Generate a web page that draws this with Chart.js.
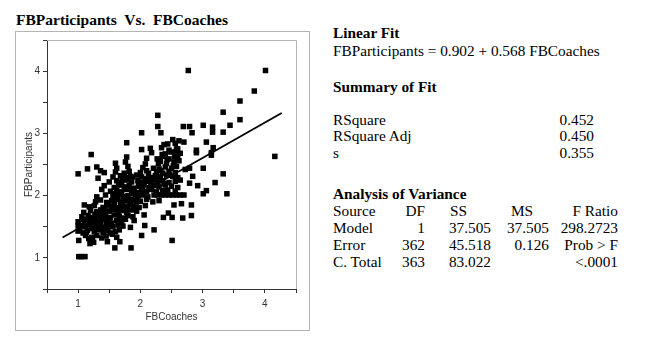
<!DOCTYPE html>
<html>
<head>
<meta charset="utf-8">
<script src="https://cdn.jsdelivr.net/npm/chart.js@4/dist/chart.umd.min.js"></script>
<style>
  html, body { margin: 0; padding: 0; background: #fff; width: 653px; height: 337px; overflow: hidden; position: relative; }
  .t { position: absolute; font-family: "Liberation Serif", "Times New Roman", serif; font-size: 15.3px; line-height: 1; white-space: pre; color: #000; }
  .b { font-weight: bold; }
  .r { text-align: right; }
  #frame { position: absolute; left: 15px; top: 31px; width: 295px; height: 300px; border: 1px solid #b4b4b4; box-sizing: border-box; }
  #plot { position: absolute; left: 16px; top: 31px; }
</style>
</head>
<body>
<div class="t b" style="left:16px;top:12px;font-size:15.5px">FBParticipants  Vs.  FBCoaches</div>
<div id="frame"></div>
<canvas id="plot" width="293" height="300"></canvas>

<div class="t b" style="left:333px;top:25px">Linear Fit</div>
<div class="t" style="left:333px;top:43px">FBParticipants = 0.902 + 0.568 FBCoaches</div>

<div class="t b" style="left:333px;top:79px">Summary of Fit</div>
<div class="t" style="left:333px;top:111.5px">RSquare</div>
<div class="t r" style="left:534px;width:60px;top:111.5px">0.452</div>
<div class="t" style="left:333px;top:128px">RSquare Adj</div>
<div class="t r" style="left:534px;width:60px;top:128px">0.450</div>
<div class="t" style="left:333px;top:144.5px">s</div>
<div class="t r" style="left:534px;width:60px;top:144.5px">0.355</div>

<div class="t b" style="left:333px;top:186px">Analysis of Variance</div>
<div class="t" style="left:333px;top:203px">Source</div>
<div class="t r" style="left:385px;width:40px;top:203px">DF</div>
<div class="t" style="left:450px;top:203px">SS</div>
<div class="t" style="left:511px;top:203px">MS</div>
<div class="t r" style="left:540px;width:78px;top:203px">F Ratio</div>

<div class="t" style="left:333px;top:220px">Model</div>
<div class="t r" style="left:385px;width:40px;top:220px">1</div>
<div class="t r" style="left:431px;width:60px;top:220px">37.505</div>
<div class="t r" style="left:489px;width:60px;top:220px">37.505</div>
<div class="t r" style="left:540px;width:78px;top:220px">298.2723</div>

<div class="t" style="left:333px;top:237px">Error</div>
<div class="t r" style="left:385px;width:40px;top:237px">362</div>
<div class="t r" style="left:431px;width:60px;top:237px">45.518</div>
<div class="t r" style="left:489px;width:60px;top:237px">0.126</div>
<div class="t r" style="left:540px;width:78px;top:237px">Prob &gt; F</div>

<div class="t" style="left:333px;top:254px">C. Total</div>
<div class="t r" style="left:385px;width:40px;top:254px">363</div>
<div class="t r" style="left:431px;width:60px;top:254px">83.022</div>
<div class="t r" style="left:540px;width:78px;top:254px">&lt;.0001</div>

<script>
// scatter values, one band of FBParticipants per line
const fbCoaches = [
  1.01, 1.05, 1.11,
  1.59, 1.85,
  1.01, 1.19, 1.25, 1.47, 1.67, 2.51,
  1.12, 1.22, 1.30, 1.38, 1.45, 1.55, 1.62, 2.02,
  1.00, 1.08, 1.15, 1.26, 1.33, 1.40, 1.48, 1.52, 1.60, 1.66, 2.22,
  1.00, 1.12, 1.18, 1.24, 1.30, 1.36, 1.42, 1.50, 1.56, 1.64, 1.72, 1.84, 2.07,
  1.00, 1.10, 1.20, 1.28, 1.34, 1.40, 1.46, 1.54, 1.62, 1.70, 1.76, 1.90,
  1.06, 1.16, 1.24, 1.32, 1.38, 1.44, 1.52, 1.58, 1.66, 1.74, 1.80, 1.88, 2.06, 2.37, 2.51, 2.68, 2.82,
  1.09, 1.20, 1.30, 1.36, 1.42, 1.50, 1.58, 1.64, 1.70, 1.78, 1.86, 1.94, 2.45,
  1.10, 1.18, 1.26, 1.40, 1.48, 1.55, 1.62, 1.68, 1.74, 1.82, 1.90, 1.98, 2.08, 2.54, 2.66, 2.82,
  1.28, 1.36, 1.46, 1.54, 1.60, 1.68, 1.76, 1.84, 1.92, 2.00, 2.10, 2.20, 2.30,
  1.30, 1.44, 1.56, 1.64, 1.72, 1.80, 1.88, 1.96, 2.04, 2.12, 2.22, 2.28, 2.34, 2.40, 2.46, 2.52, 2.58, 2.64, 2.70, 3.01, 3.39,
  1.38, 1.52, 1.62, 1.70, 1.78, 1.86, 1.94, 2.02, 2.10, 2.18, 2.26, 2.36, 2.44, 2.56, 3.06,
  1.42, 1.58, 1.66, 1.74, 1.82, 1.90, 1.98, 2.06, 2.14, 2.22, 2.30, 2.40, 2.50, 2.60, 2.92,
  1.50, 1.62, 1.70, 1.78, 1.86, 1.96, 2.04, 2.12, 2.20, 2.28, 2.36, 2.46, 2.56, 2.64, 2.79, 3.20,
  1.32, 1.56, 1.68, 1.76, 1.84, 1.94, 2.02, 2.16, 2.24, 2.32, 2.42, 2.52, 2.60, 2.84,
  1.00, 1.36, 1.42, 1.60, 1.74, 1.82, 2.00, 2.10, 2.26, 2.36, 2.46, 2.56, 3.33,
  1.15, 1.30, 1.62, 1.80, 2.04, 2.30, 2.40, 2.50, 2.58, 2.72, 2.79, 3.01,
  1.60, 1.76, 2.08, 2.32, 2.42, 2.54, 2.62,
  1.78, 2.10, 2.36, 2.46, 2.60, 3.14, 4.16,
  1.21, 2.18, 2.40, 2.56, 2.64, 2.90, 3.14,
  2.02, 2.16, 2.34, 2.46, 2.60, 2.90, 3.17,
  1.78, 2.38, 2.44, 2.56, 2.70, 3.06, 2.52, 2.62,
  2.02, 2.33, 2.83, 3.33, 3.16,
  2.28, 2.69, 2.79, 3.01, 3.16, 3.44,
  3.60, 2.28, 3.33, 3.60, 3.83, 2.77, 4.01,
  // dense core, lower left
  1.22, 1.28, 1.33, 1.39, 1.45, 1.49, 1.27, 1.35, 1.43, 1.53, 1.18, 1.14,
  1.05, 1.08, 1.03, 1.13, 1.17, 1.23,
  // dense core, middle
  1.58, 1.63, 1.67, 1.72, 1.77, 1.81, 1.85, 1.89, 1.93, 1.97, 1.65, 1.71, 1.79, 1.87, 1.58,
  // dense core, upper right
  2.03, 2.08, 2.13, 2.17, 2.21, 2.25, 2.29, 2.33, 2.38, 2.43, 2.47, 2.53, 2.35, 2.27, 2.49, 2.58, 2.55
]
const fbParticipants = [
  1.02, 1.02, 1.02,
  1.16, 1.16,
  1.28, 1.23, 1.25, 1.26, 1.26, 1.28,
  1.36, 1.33, 1.36, 1.32, 1.35, 1.38, 1.33, 1.36,
  1.43, 1.40, 1.44, 1.42, 1.45, 1.41, 1.44, 1.40, 1.42, 1.45, 1.45,
  1.52, 1.50, 1.53, 1.48, 1.51, 1.54, 1.49, 1.52, 1.50, 1.53, 1.51, 1.49, 1.52,
  1.58, 1.60, 1.57, 1.61, 1.58, 1.62, 1.59, 1.56, 1.60, 1.58, 1.62, 1.60,
  1.66, 1.68, 1.65, 1.69, 1.66, 1.68, 1.65, 1.69, 1.67, 1.64, 1.68, 1.66, 1.69, 1.65, 1.65, 1.64, 1.68,
  1.73, 1.76, 1.74, 1.77, 1.73, 1.75, 1.78, 1.74, 1.76, 1.73, 1.77, 1.75, 1.72,
  1.85, 1.82, 1.84, 1.81, 1.85, 1.83, 1.80, 1.84, 1.82, 1.86, 1.83, 1.81, 1.84, 1.85, 1.87, 1.85,
  1.90, 1.93, 1.89, 1.92, 1.94, 1.90, 1.92, 1.89, 1.93, 1.91, 1.94, 1.90, 1.92,
  1.98, 2.01, 1.99, 2.02, 1.98, 2.00, 2.03, 1.99, 2.01, 1.98, 2.01, 2.01, 2.01, 2.01, 2.01, 2.01, 2.01, 2.01, 2.01, 2.03, 2.03,
  2.10, 2.07, 2.09, 2.06, 2.10, 2.08, 2.05, 2.09, 2.07, 2.10, 2.06, 2.08, 2.09, 2.07, 2.08,
  2.16, 2.13, 2.17, 2.14, 2.16, 2.12, 2.15, 2.17, 2.13, 2.16, 2.14, 2.17, 2.15, 2.13, 2.16,
  2.22, 2.24, 2.21, 2.25, 2.22, 2.24, 2.21, 2.23, 2.25, 2.22, 2.24, 2.21, 2.23, 2.25, 2.20, 2.21,
  2.28, 2.30, 2.32, 2.29, 2.31, 2.33, 2.30, 2.29, 2.32, 2.30, 2.33, 2.31, 2.29, 2.31,
  2.35, 2.40, 2.37, 2.38, 2.36, 2.39, 2.37, 2.40, 2.38, 2.36, 2.39, 2.37, 2.35,
  2.43, 2.46, 2.44, 2.47, 2.45, 2.43, 2.46, 2.44, 2.47, 2.42, 2.44, 2.44,
  2.52, 2.54, 2.51, 2.55, 2.52, 2.54, 2.56,
  2.62, 2.60, 2.63, 2.59, 2.61, 2.65, 2.63,
  2.66, 2.69, 2.67, 2.70, 2.68, 2.69, 2.69,
  2.74, 2.76, 2.77, 2.73, 2.75, 2.73, 2.77,
  2.85, 2.82, 2.83, 2.84, 2.86, 2.86, 2.90, 2.88,
  3.01, 3.01, 3.01, 3.02, 3.02,
  3.11, 3.11, 3.11, 3.13, 3.10, 3.13,
  3.22, 3.29, 3.34, 3.52, 3.68, 4.01, 4.01,
  // dense core, lower left
  1.47, 1.55, 1.64, 1.71, 1.56, 1.62, 1.70, 1.48, 1.79, 1.80, 1.64, 1.56,
  1.52, 1.62, 1.47, 1.41, 1.31, 1.29,
  // dense core, middle
  1.86, 1.95, 2.04, 1.88, 1.97, 2.12, 1.94, 2.05, 1.86, 2.20, 2.18, 2.27, 1.79, 2.30, 2.03,
  // dense core, upper right
  2.13, 2.27, 2.36, 2.20, 2.44, 2.30, 2.52, 2.40, 2.19, 2.58, 2.33, 2.48, 2.66, 2.59, 2.70, 2.75, 2.62
]
// ends of the fitted line FBParticipants = 0.902 + 0.568 FBCoaches
const fitX = [0.75, 4.27]
const fitY = [1.328, 3.327]

const axisMin = 0.5, axisMax = 4.5, axisStep = 0.5

const points = fbCoaches.map((x, i) => ({x: x, y: fbParticipants[i]}))
const fitLine = fitX.map((x, i) => ({x: x, y: fitY[i]}))

const sansFont = {family: '"Liberation Sans", Arial, sans-serif', size: 10}
const inkColor = '#333'

// top and right sides of the plot box are light grey
const plotBox = {
  id: 'plotBox',
  afterDraw(chart) {
    const {ctx, chartArea: a} = chart
    ctx.save()
    ctx.strokeStyle = '#b4b4b4'
    ctx.lineWidth = 1
    ctx.beginPath()
    ctx.moveTo(a.left, Math.floor(a.top) + 0.5)
    ctx.lineTo(Math.floor(a.right) + 0.5, Math.floor(a.top) + 0.5)
    ctx.lineTo(Math.floor(a.right) + 0.5, a.bottom)
    ctx.stroke()
    ctx.restore()
  }
}

function axis(titleText, titlePad, tickPad, fit) {
  return {
    type: 'linear',
    min: axisMin,
    max: axisMax,
    ticks: {
      stepSize: axisStep,
      autoSkip: false,
      maxRotation: 0,
      font: sansFont,
      color: inkColor,
      padding: tickPad,
      callback: v => (v % 1 === 0 ? String(v) : '')
    },
    grid: {drawOnChartArea: false, tickLength: 4, tickColor: inkColor, tickWidth: 1},
    border: {display: true, color: inkColor, width: 1},
    title: {display: true, text: titleText, font: sansFont, color: inkColor, padding: titlePad},
    afterFit: fit
  }
}

new Chart(document.getElementById('plot'), {
  type: 'scatter',
  data: {
    datasets: [
      {
        type: 'line',
        data: fitLine,
        borderColor: '#000',
        borderWidth: 1.8,
        pointRadius: 0,
        fill: false
      },
      {
        data: points,
        pointStyle: 'rect',
        pointRadius: 3.9,
        pointHoverRadius: 3.9,
        backgroundColor: '#000',
        borderWidth: 0
      }
    ]
  },
  options: {
    responsive: false,
    animation: false,
    events: [],
    layout: {padding: {left: 0, right: 13, top: 6, bottom: 0}},
    plugins: {legend: {display: false}, tooltip: {enabled: false}},
    scales: {
      x: axis('FBCoaches', {top: 0, bottom: 8}, 5, s => { s.height = 42 }),
      y: axis('FBParticipants', {top: 7, bottom: 0}, 3, s => { s.width = 31 })
    }
  },
  plugins: [plotBox]
})
</script>
</body>
</html>
